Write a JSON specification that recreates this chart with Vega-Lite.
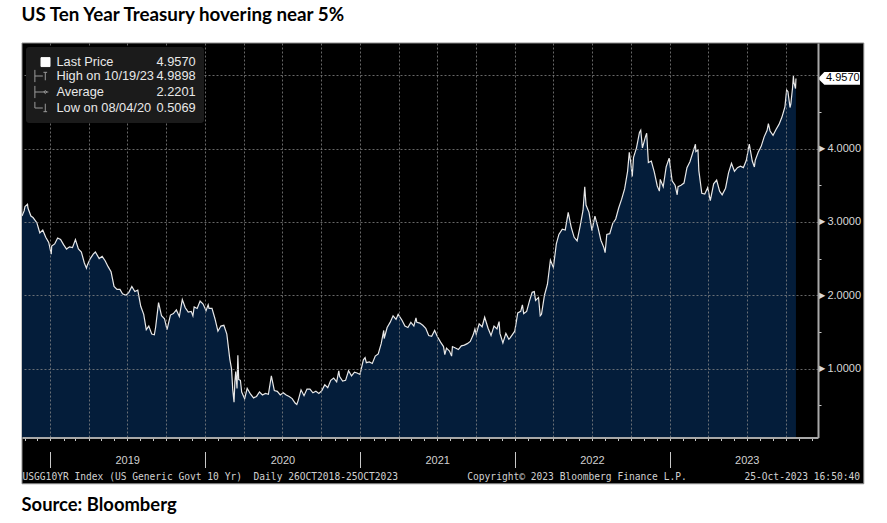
{
  "$schema": "https://vega.github.io/schema/vega-lite/v6.json",
  "background": "#ffffff",
  "padding": {"left": 21, "right": 23, "top": 5, "bottom": 8},
  "title": {"text": "US Ten Year Treasury hovering near 5%", "anchor": "start", "font": "Lato", "fontSize": 18.8, "fontWeight": "bold", "color": "#000000", "offset": 18},
  "datasets": {
    "yields": [
      {"d":"2018-10-26","v":3.08},{"d":"2018-10-31","v":3.15},{"d":"2018-11-02","v":3.21},{"d":"2018-11-08","v":3.24},{"d":"2018-11-09","v":3.19},{"d":"2018-11-16","v":3.08},{"d":"2018-11-21","v":3.06},{"d":"2018-11-30","v":2.99},{"d":"2018-12-04","v":2.91},{"d":"2018-12-07","v":2.85},{"d":"2018-12-14","v":2.89},{"d":"2018-12-21","v":2.79},{"d":"2018-12-28","v":2.72},
      {"d":"2019-01-03","v":2.56},{"d":"2019-01-04","v":2.67},{"d":"2019-01-11","v":2.70},{"d":"2019-01-18","v":2.78},{"d":"2019-01-25","v":2.76},{"d":"2019-02-01","v":2.69},{"d":"2019-02-08","v":2.63},{"d":"2019-02-15","v":2.66},{"d":"2019-02-22","v":2.65},{"d":"2019-03-01","v":2.76},{"d":"2019-03-08","v":2.63},{"d":"2019-03-15","v":2.59},{"d":"2019-03-22","v":2.44},{"d":"2019-03-27","v":2.37},{"d":"2019-03-29","v":2.41},{"d":"2019-04-05","v":2.50},{"d":"2019-04-12","v":2.56},{"d":"2019-04-17","v":2.59},{"d":"2019-04-26","v":2.50},{"d":"2019-05-03","v":2.53},{"d":"2019-05-10","v":2.47},{"d":"2019-05-17","v":2.39},{"d":"2019-05-24","v":2.32},{"d":"2019-05-31","v":2.12},{"d":"2019-06-07","v":2.08},{"d":"2019-06-14","v":2.08},{"d":"2019-06-20","v":2.02},{"d":"2019-06-28","v":2.00},{"d":"2019-07-05","v":2.04},{"d":"2019-07-12","v":2.12},{"d":"2019-07-19","v":2.05},{"d":"2019-07-26","v":2.07},{"d":"2019-08-02","v":1.85},{"d":"2019-08-09","v":1.74},{"d":"2019-08-15","v":1.53},{"d":"2019-08-21","v":1.58},{"d":"2019-08-28","v":1.47},{"d":"2019-09-03","v":1.46},{"d":"2019-09-06","v":1.56},{"d":"2019-09-13","v":1.90},{"d":"2019-09-20","v":1.72},{"d":"2019-09-27","v":1.68},{"d":"2019-10-03","v":1.53},{"d":"2019-10-11","v":1.73},{"d":"2019-10-18","v":1.75},{"d":"2019-10-25","v":1.80},{"d":"2019-11-01","v":1.71},{"d":"2019-11-08","v":1.94},{"d":"2019-11-15","v":1.83},{"d":"2019-11-22","v":1.77},{"d":"2019-11-29","v":1.78},{"d":"2019-12-03","v":1.72},{"d":"2019-12-06","v":1.84},{"d":"2019-12-13","v":1.82},{"d":"2019-12-20","v":1.92},{"d":"2019-12-27","v":1.88},
      {"d":"2020-01-03","v":1.79},{"d":"2020-01-08","v":1.87},{"d":"2020-01-10","v":1.82},{"d":"2020-01-17","v":1.82},{"d":"2020-01-24","v":1.68},{"d":"2020-01-31","v":1.51},{"d":"2020-02-07","v":1.58},{"d":"2020-02-14","v":1.59},{"d":"2020-02-21","v":1.47},{"d":"2020-02-28","v":1.13},{"d":"2020-03-03","v":1.00},{"d":"2020-03-06","v":0.71},{"d":"2020-03-09","v":0.54},{"d":"2020-03-11","v":0.82},{"d":"2020-03-13","v":0.96},{"d":"2020-03-16","v":0.73},{"d":"2020-03-18","v":1.18},{"d":"2020-03-20","v":0.85},{"d":"2020-03-24","v":0.84},{"d":"2020-03-27","v":0.68},{"d":"2020-04-03","v":0.59},{"d":"2020-04-09","v":0.73},{"d":"2020-04-17","v":0.65},{"d":"2020-04-24","v":0.60},{"d":"2020-05-01","v":0.62},{"d":"2020-05-08","v":0.68},{"d":"2020-05-15","v":0.64},{"d":"2020-05-22","v":0.66},{"d":"2020-05-29","v":0.65},{"d":"2020-06-05","v":0.90},{"d":"2020-06-12","v":0.70},{"d":"2020-06-19","v":0.69},{"d":"2020-06-26","v":0.64},{"d":"2020-07-03","v":0.67},{"d":"2020-07-10","v":0.64},{"d":"2020-07-17","v":0.62},{"d":"2020-07-24","v":0.59},{"d":"2020-07-31","v":0.53},{"d":"2020-08-04","v":0.51},{"d":"2020-08-07","v":0.56},{"d":"2020-08-14","v":0.71},{"d":"2020-08-21","v":0.63},{"d":"2020-08-28","v":0.72},{"d":"2020-09-04","v":0.72},{"d":"2020-09-11","v":0.67},{"d":"2020-09-18","v":0.69},{"d":"2020-09-25","v":0.66},{"d":"2020-10-02","v":0.70},{"d":"2020-10-09","v":0.78},{"d":"2020-10-16","v":0.74},{"d":"2020-10-23","v":0.84},{"d":"2020-10-30","v":0.87},{"d":"2020-11-06","v":0.82},{"d":"2020-11-11","v":0.97},{"d":"2020-11-13","v":0.89},{"d":"2020-11-20","v":0.83},{"d":"2020-11-27","v":0.84},{"d":"2020-12-04","v":0.97},{"d":"2020-12-11","v":0.90},{"d":"2020-12-18","v":0.95},{"d":"2020-12-24","v":0.94},{"d":"2020-12-31","v":0.92},
      {"d":"2021-01-08","v":1.12},{"d":"2021-01-12","v":1.15},{"d":"2021-01-15","v":1.08},{"d":"2021-01-22","v":1.09},{"d":"2021-01-29","v":1.07},{"d":"2021-02-05","v":1.17},{"d":"2021-02-12","v":1.20},{"d":"2021-02-19","v":1.34},{"d":"2021-02-25","v":1.52},{"d":"2021-02-26","v":1.41},{"d":"2021-03-05","v":1.56},{"d":"2021-03-12","v":1.63},{"d":"2021-03-19","v":1.72},{"d":"2021-03-26","v":1.67},{"d":"2021-03-31","v":1.74},{"d":"2021-04-09","v":1.66},{"d":"2021-04-16","v":1.58},{"d":"2021-04-23","v":1.56},{"d":"2021-04-30","v":1.63},{"d":"2021-05-07","v":1.58},{"d":"2021-05-12","v":1.69},{"d":"2021-05-14","v":1.63},{"d":"2021-05-21","v":1.62},{"d":"2021-05-28","v":1.59},{"d":"2021-06-04","v":1.55},{"d":"2021-06-11","v":1.45},{"d":"2021-06-18","v":1.44},{"d":"2021-06-25","v":1.52},{"d":"2021-07-02","v":1.43},{"d":"2021-07-09","v":1.36},{"d":"2021-07-16","v":1.30},{"d":"2021-07-19","v":1.19},{"d":"2021-07-23","v":1.28},{"d":"2021-07-30","v":1.24},{"d":"2021-08-04","v":1.17},{"d":"2021-08-06","v":1.30},{"d":"2021-08-13","v":1.28},{"d":"2021-08-20","v":1.26},{"d":"2021-08-27","v":1.31},{"d":"2021-09-03","v":1.32},{"d":"2021-09-10","v":1.34},{"d":"2021-09-17","v":1.37},{"d":"2021-09-24","v":1.46},{"d":"2021-09-28","v":1.54},{"d":"2021-10-01","v":1.47},{"d":"2021-10-08","v":1.61},{"d":"2021-10-15","v":1.57},{"d":"2021-10-21","v":1.70},{"d":"2021-10-29","v":1.55},{"d":"2021-11-05","v":1.45},{"d":"2021-11-12","v":1.58},{"d":"2021-11-19","v":1.54},{"d":"2021-11-24","v":1.64},{"d":"2021-11-26","v":1.48},{"d":"2021-12-03","v":1.35},{"d":"2021-12-10","v":1.48},{"d":"2021-12-17","v":1.40},{"d":"2021-12-20","v":1.42},{"d":"2021-12-31","v":1.51},
      {"d":"2022-01-07","v":1.76},{"d":"2022-01-14","v":1.78},{"d":"2022-01-18","v":1.87},{"d":"2022-01-21","v":1.75},{"d":"2022-01-28","v":1.78},{"d":"2022-02-04","v":1.93},{"d":"2022-02-10","v":2.04},{"d":"2022-02-15","v":2.05},{"d":"2022-02-18","v":1.93},{"d":"2022-02-25","v":1.97},{"d":"2022-03-01","v":1.72},{"d":"2022-03-04","v":1.74},{"d":"2022-03-11","v":2.00},{"d":"2022-03-18","v":2.15},{"d":"2022-03-25","v":2.48},{"d":"2022-04-01","v":2.38},{"d":"2022-04-08","v":2.70},{"d":"2022-04-14","v":2.83},{"d":"2022-04-22","v":2.90},{"d":"2022-04-29","v":2.89},{"d":"2022-05-06","v":3.13},{"d":"2022-05-13","v":2.93},{"d":"2022-05-20","v":2.79},{"d":"2022-05-27","v":2.74},{"d":"2022-06-03","v":2.94},{"d":"2022-06-10","v":3.16},{"d":"2022-06-14","v":3.48},{"d":"2022-06-17","v":3.23},{"d":"2022-06-24","v":3.13},{"d":"2022-07-01","v":2.88},{"d":"2022-07-08","v":3.08},{"d":"2022-07-15","v":2.93},{"d":"2022-07-22","v":2.75},{"d":"2022-07-29","v":2.65},{"d":"2022-08-01","v":2.58},{"d":"2022-08-05","v":2.83},{"d":"2022-08-12","v":2.84},{"d":"2022-08-19","v":2.98},{"d":"2022-08-26","v":3.04},{"d":"2022-09-02","v":3.19},{"d":"2022-09-09","v":3.31},{"d":"2022-09-16","v":3.45},{"d":"2022-09-23","v":3.69},{"d":"2022-09-27","v":3.95},{"d":"2022-09-30","v":3.83},{"d":"2022-10-04","v":3.62},{"d":"2022-10-07","v":3.88},{"d":"2022-10-14","v":4.01},{"d":"2022-10-21","v":4.22},{"d":"2022-10-24","v":4.25},{"d":"2022-10-28","v":4.01},{"d":"2022-11-04","v":4.16},{"d":"2022-11-07","v":4.21},{"d":"2022-11-11","v":3.81},{"d":"2022-11-18","v":3.83},{"d":"2022-11-25","v":3.68},{"d":"2022-12-02","v":3.49},{"d":"2022-12-07","v":3.42},{"d":"2022-12-09","v":3.58},{"d":"2022-12-16","v":3.48},{"d":"2022-12-23","v":3.75},{"d":"2022-12-30","v":3.87},
      {"d":"2023-01-06","v":3.56},{"d":"2023-01-13","v":3.50},{"d":"2023-01-18","v":3.37},{"d":"2023-01-20","v":3.48},{"d":"2023-01-27","v":3.50},{"d":"2023-02-03","v":3.53},{"d":"2023-02-10","v":3.74},{"d":"2023-02-17","v":3.82},{"d":"2023-02-24","v":3.95},{"d":"2023-03-02","v":4.06},{"d":"2023-03-03","v":3.96},{"d":"2023-03-08","v":3.98},{"d":"2023-03-10","v":3.70},{"d":"2023-03-17","v":3.39},{"d":"2023-03-24","v":3.38},{"d":"2023-03-31","v":3.47},{"d":"2023-04-06","v":3.29},{"d":"2023-04-14","v":3.52},{"d":"2023-04-21","v":3.57},{"d":"2023-04-28","v":3.42},{"d":"2023-05-04","v":3.37},{"d":"2023-05-12","v":3.46},{"d":"2023-05-19","v":3.67},{"d":"2023-05-26","v":3.80},{"d":"2023-06-02","v":3.69},{"d":"2023-06-09","v":3.74},{"d":"2023-06-16","v":3.76},{"d":"2023-06-23","v":3.74},{"d":"2023-06-30","v":3.84},{"d":"2023-07-07","v":4.06},{"d":"2023-07-14","v":3.83},{"d":"2023-07-19","v":3.75},{"d":"2023-07-21","v":3.84},{"d":"2023-07-28","v":3.95},{"d":"2023-08-04","v":4.03},{"d":"2023-08-11","v":4.16},{"d":"2023-08-18","v":4.25},{"d":"2023-08-21","v":4.34},{"d":"2023-08-25","v":4.24},{"d":"2023-09-01","v":4.18},{"d":"2023-09-08","v":4.26},{"d":"2023-09-15","v":4.33},{"d":"2023-09-22","v":4.43},{"d":"2023-09-29","v":4.57},{"d":"2023-10-03","v":4.80},{"d":"2023-10-06","v":4.78},{"d":"2023-10-11","v":4.56},{"d":"2023-10-13","v":4.61},{"d":"2023-10-17","v":4.83},{"d":"2023-10-19","v":4.99},{"d":"2023-10-20","v":4.91},{"d":"2023-10-23","v":4.84},{"d":"2023-10-24","v":4.82},{"d":"2023-10-25","v":4.957}
    ],
    "stats": [
      {"stat": "Last Price", "date": "2023-10-25", "value": 4.957},
      {"stat": "High on 10/19/23", "date": "2023-10-19", "value": 4.9898},
      {"stat": "Average", "date": null, "value": 2.2201},
      {"stat": "Low on 08/04/20", "date": "2020-08-04", "value": 0.5069}
    ]
  },
  "vconcat": [
    {
      "width": 796,
      "height": 394.5,
      "title": {"text": "Source: Bloomberg", "orient": "bottom", "anchor": "start", "font": "Lato", "fontSize": 18.4, "fontWeight": "bold", "color": "#000000", "offset": 12},
      "layer": [
        {
          "data": {"values": [{}]},
          "mark": {"type": "rect", "fill": "#000000", "stroke": "#8c8c8c", "strokeWidth": 1},
          "encoding": {
            "x": {"datum": {"year": 2018, "month": 10, "date": 26, "utc": true}, "type": "temporal", "scale": {"type": "utc"}},
            "x2": {"datum": {"year": 2024, "month": 4, "date": 2, "utc": true}},
            "y": {"datum": -0.571, "type": "quantitative"},
            "y2": {"datum": 5.44}
          }
        },
        {
          "data": {"name": "yields"},
          "mark": {"type": "area", "fill": "#041d3a", "clip": true},
          "encoding": {
            "x": {
              "field": "d", "type": "temporal",
              "scale": {"type": "utc", "domain": [{"year": 2018, "month": 10, "date": 26, "utc": true}, {"year": 2023, "month": 12, "date": 16, "utc": true}], "nice": false},
              "axis": {
                "orient": "bottom", "zindex": 1,
                "tickCount": {"interval": "month", "step": 1},
                "grid": true, "gridColor": "#8a8a8a", "gridDash": [2, 2], "gridWidth": 1,
                "gridOpacity": {"condition": {"test": "utcmonth(datum.value) % 3 === 0", "value": 0.75}, "value": 0},
                "domain": true, "domainColor": "#a8a8a8", "domainWidth": 2,
                "ticks": true, "tickColor": "#c8c8c8", "tickWidth": 1, "tickSize": 30,
                "tickDash": {"condition": {"test": "utcmonth(datum.value) === 0", "value": [3, 11, 16, 40]}, "value": [3, 40]},
                "labelExpr": "utcmonth(datum.value) === 6 ? utcFormat(datum.value, '%Y') : ''",
                "labelFont": "Liberation Sans", "labelFontSize": 11, "labelColor": "#d0d0d0", "labelPadding": -13,
                "labelOverlap": false, "labelFlush": false, "labelBound": false,
                "title": "USGG10YR Index (US Generic Govt 10 Yr)\u00a0\u00a0Daily 26OCT2018-25OCT2023\u00a0\u00a0\u00a0\u00a0\u00a0\u00a0\u00a0\u00a0\u00a0\u00a0\u00a0\u00a0Copyright\u00a9 2023 Bloomberg Finance L.P.\u00a0\u00a0\u00a0\u00a0\u00a0\u00a0\u00a0\u00a0\u00a0\u00a025-Oct-2023 16:50:40",
                "titleAnchor": "start", "titleFont": "DejaVu Sans Mono", "titleFontSize": 9.6, "titleFontWeight": "normal", "titleColor": "#d0d0d0", "titlePadding": 3
              }
            },
            "y": {
              "field": "v", "type": "quantitative",
              "scale": {"domain": [0.06, 5.44], "nice": false, "zero": false},
              "axis": {
                "orient": "right", "zindex": 1,
                "values": [0.5, 1, 1.5, 2, 2.5, 3, 3.5, 4, 4.5, 5],
                "grid": true, "gridColor": "#8a8a8a", "gridDash": [2, 2], "gridWidth": 1,
                "gridOpacity": {"condition": {"test": "datum.value % 1 === 0", "value": 0.75}, "value": 0},
                "domain": true, "domainColor": "#a8a8a8", "domainWidth": 2,
                "ticks": true, "tickColor": "#c8c8c8", "tickSize": 3,
                "tickOpacity": {"condition": {"test": "datum.value % 1 === 0", "value": 0}, "value": 1},
                "labelExpr": "datum.value % 1 === 0 && datum.value < 5 ? '\u25ba' + format(datum.value, '.4f') : ''",
                "labelFont": "Liberation Sans", "labelFontSize": 11, "labelColor": "#d8d8d8", "labelPadding": -5,
                "labelOverlap": false, "labelFlush": false, "labelBound": false,
                "title": null
              }
            }
          }
        },
        {
          "data": {"name": "yields"},
          "mark": {"type": "line", "stroke": "#e8e8e8", "strokeWidth": 1.2, "clip": true},
          "encoding": {
            "x": {"field": "d", "type": "temporal", "scale": {"type": "utc"}},
            "y": {"field": "v", "type": "quantitative"}
          }
        },
        {
          "data": {"name": "stats"},
          "mark": {"type": "point", "filled": true, "opacity": 0, "strokeWidth": 1},
          "encoding": {
            "x": {"field": "date", "type": "temporal", "scale": {"type": "utc"}},
            "y": {"field": "value", "type": "quantitative"},
            "fill": {"field": "stat", "type": "nominal",
              "legend": {"title": null, "encode": {"labels": {"update": {"dx": {"signal": "datum.index >= 4 ? -20 : 0"}}}}},
              "scale": {"domain": ["Last Price", "High on 10/19/23", "Average", "Low on 08/04/20", "4.9570", "4.9898", "2.2201", "0.5069"],
                        "range": ["#ffffff", "transparent", "transparent", "transparent", "transparent", "transparent", "transparent", "transparent"]}},
            "stroke": {"field": "stat", "type": "nominal",
              "legend": {"title": null, "encode": {"labels": {"update": {"dx": {"signal": "datum.index >= 4 ? -20 : 0"}}}}},
              "scale": {"domain": ["Last Price", "High on 10/19/23", "Average", "Low on 08/04/20", "4.9570", "4.9898", "2.2201", "0.5069"],
                        "range": ["#ffffff", "#9a9a9a", "#9a9a9a", "#9a9a9a", "transparent", "transparent", "transparent", "transparent"]}},
            "shape": {"field": "stat", "type": "nominal",
              "legend": {"title": null, "encode": {"labels": {"update": {"dx": {"signal": "datum.index >= 4 ? -20 : 0"}}}}},
              "scale": {"domain": ["Last Price", "High on 10/19/23", "Average", "Low on 08/04/20", "4.9570", "4.9898", "2.2201", "0.5069"],
                        "range": ["M0,-0.73L1.47,-0.73L1.47,0.73L0,0.73Z", "M-1,-1L-1,1M-1,0L0.3,0M0.4,-0.6L1,-0.6M0.7,-0.6L0.7,0.7", "M-1,-1L-1,1M-1,0L1.2,0M0.45,0L0.7,-0.25L0.95,0L0.7,0.25Z", "M-1,-1L-1,0L0.3,0M0.7,-0.7L0.7,0.6M0.4,0.6L1,0.6", "M0,0", "M0,0", "M0,0", "M0,0"]}}
          }
        },
        {
          "data": {"name": "stats"},
          "transform": [{"filter": "datum.stat === 'Last Price'"}],
          "mark": {"type": "point", "shape": "M0,0L0.3,-0.3L2,-0.3L2,0.3L0.3,0.3Z", "size": 1764, "filled": true, "fill": "#ffffff", "opacity": 1, "strokeWidth": 0},
          "encoding": {
            "x": {"value": "width"},
            "y": {"field": "value", "type": "quantitative"}
          }
        },
        {
          "data": {"name": "stats"},
          "transform": [{"filter": "datum.stat === 'Last Price'"}],
          "mark": {"type": "text", "align": "left", "baseline": "middle", "dx": 8, "font": "Liberation Sans", "fontSize": 11, "color": "#000000"},
          "encoding": {
            "x": {"value": "width"},
            "y": {"field": "value", "type": "quantitative"},
            "text": {"field": "value", "type": "quantitative", "format": ".4f"}
          }
        }
      ]
    }
  ],
  "config": {
    "view": {"stroke": null},
    "legend": {
      "orient": "top-left", "offset": 4, "padding": 8, "zindex": 2,
      "fillColor": "#1b1b1b", "cornerRadius": 3,
      "columns": 2, "columnPadding": 0, "rowPadding": -4, "gridAlign": "each",
      "labelFont": "Liberation Sans", "labelFontSize": 12.8, "labelColor": "#e8e8e8", "labelOffset": 8.5, "labelLimit": 300,
      "symbolSize": 150, "symbolStrokeWidth": 1, "symbolOpacity": 1
    }
  }
}
